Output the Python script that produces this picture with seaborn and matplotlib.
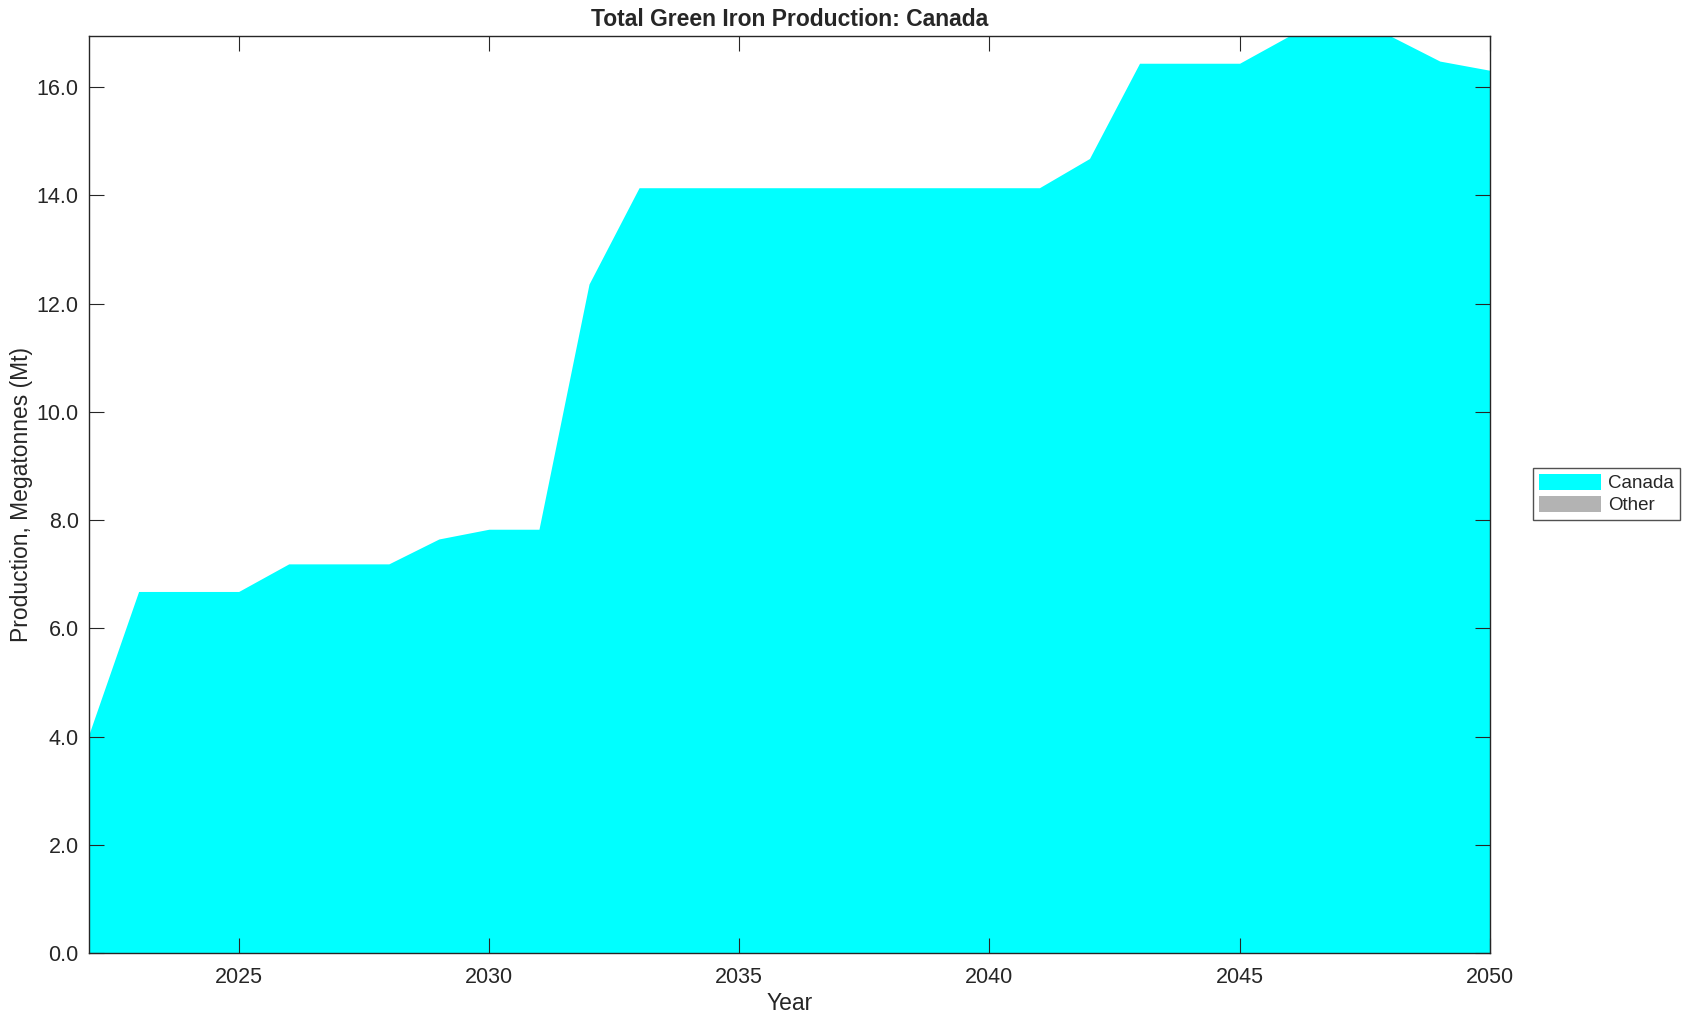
import matplotlib
matplotlib.use("Agg")
import matplotlib.pyplot as plt
from matplotlib.patches import Patch
from matplotlib.ticker import FormatStrFormatter
import numpy as np
import seaborn as sns

YEARS = list(range(2022, 2051))
CANADA = [4.02, 6.68, 6.68, 6.68, 7.19, 7.19, 7.19, 7.65, 7.83, 7.83,
          12.36, 14.14, 14.14, 14.14, 14.14, 14.14, 14.14, 14.14, 14.14, 14.14,
          14.68, 16.44, 16.44, 16.44, 16.95, 16.95, 16.95, 16.48, 16.31]
OTHER = [0.0] * len(YEARS)
SERIES = ["Canada", "Other"]
COLORS = ["#00ffff", "#b3b3b3"]
X_TICKS = [2025, 2030, 2035, 2040, 2045, 2050]
Y_TICKS = [0, 2, 4, 6, 8, 10, 12, 14, 16]

sns.set_theme(style="ticks")
plt.rcParams["font.family"] = ["Liberation Sans", "DejaVu Sans"]

fig = plt.figure(figsize=(16.93, 10.21), dpi=100)
ax = fig.add_axes([0.0523, 0.0666, 0.8277, 0.8985])

ax.stackplot(YEARS, CANADA, OTHER, colors=COLORS, linewidth=0)

top = max(np.array(CANADA) + np.array(OTHER))
ax.set_xlim(YEARS[0], YEARS[-1])
ax.set_ylim(0, top)
ax.set_xticks(X_TICKS)
ax.set_yticks(Y_TICKS)
ax.yaxis.set_major_formatter(FormatStrFormatter("%.1f"))
ax.tick_params(direction="in", length=10.5, width=0.8, colors="#262626",
               labelsize=15.5, top=True, right=True, pad=7)
ax.tick_params(axis="x", pad=10)
for s in ax.spines.values():
    s.set_color("#262626")
    s.set_linewidth(1.0)
    s.set_zorder(5)
ax.set_axisbelow(False)

ax.set_title("Total Green Iron Production: Canada", fontsize=16.5,
             fontweight="bold", pad=7)
ax.set_xlabel("Year", fontsize=16.5, color="#262626", labelpad=3)
ax.set_ylabel("Production, Megatonnes (Mt)", fontsize=16.5, color="#262626",
              labelpad=3)

handles = [Patch(facecolor=c, edgecolor="none") for c in COLORS]
leg = fig.legend(handles, SERIES, loc="center", bbox_to_anchor=(0.949, 0.516),
                 fontsize=13.5, frameon=True, fancybox=False,
                 handlelength=3.3, handleheight=0.9, borderpad=0.3,
                 labelspacing=0.2, handletextpad=0.4, borderaxespad=0)
leg.get_frame().set_edgecolor("#262626")
leg.get_frame().set_linewidth(1.0)

fig.savefig("out.png", dpi=100)
